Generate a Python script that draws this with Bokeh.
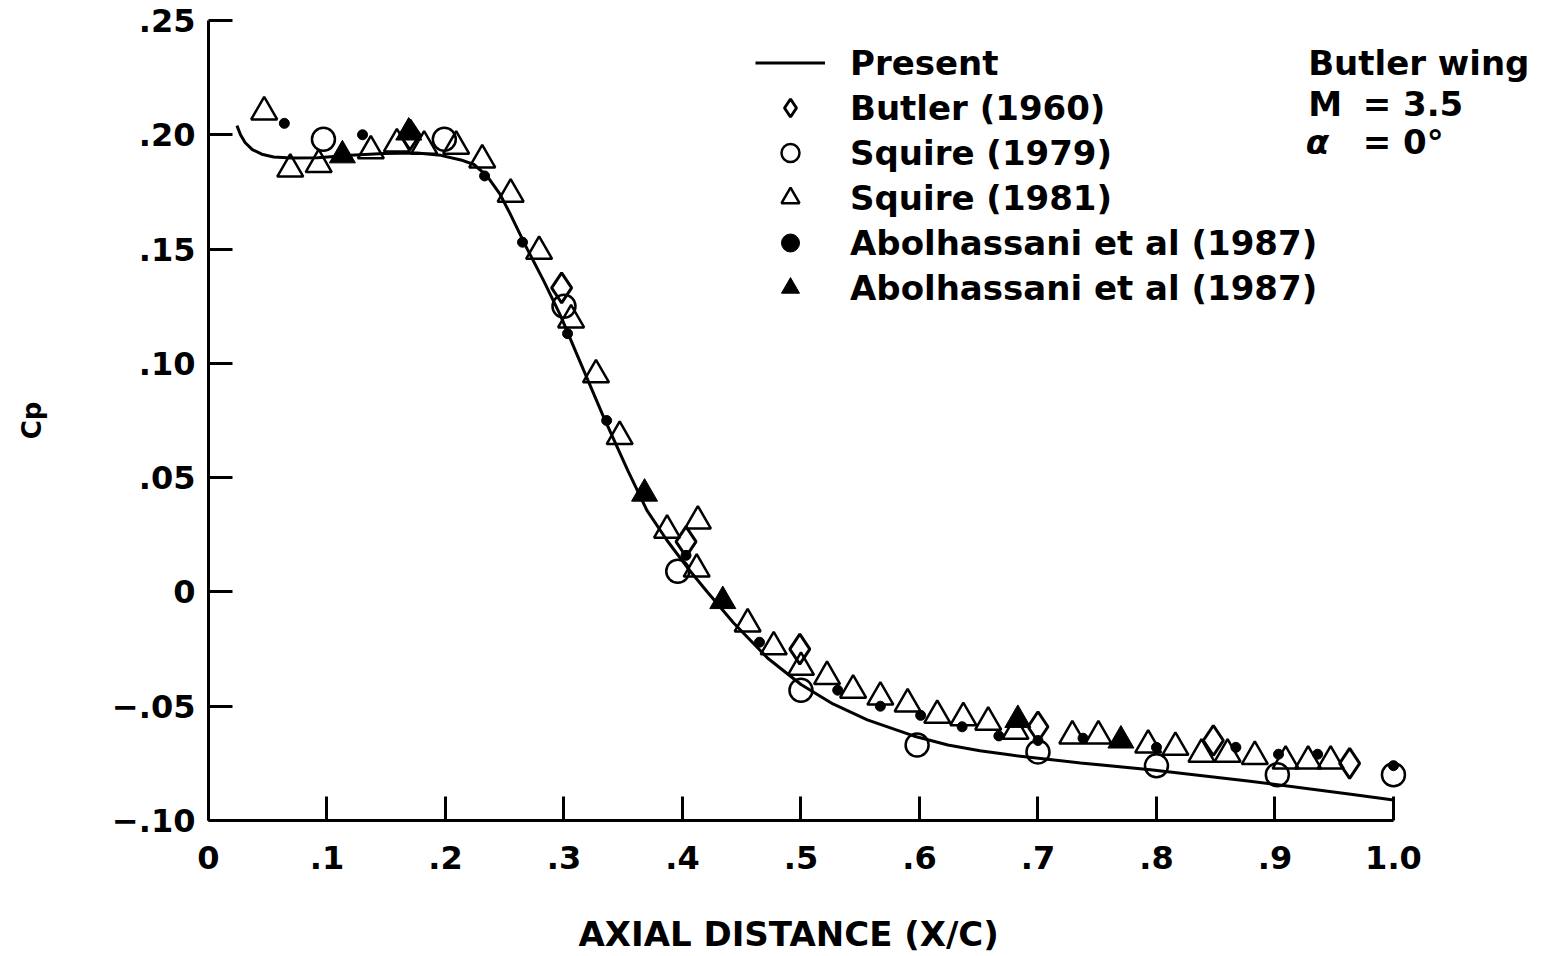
from bokeh.plotting import figure
from bokeh.models import Range1d, FixedTicker, Legend, LegendItem, Label, Title
from bokeh.embed import file_html
from bokeh.resources import INLINE

# ---- data ----
present_x = [0.024, 0.027, 0.031, 0.037, 0.045, 0.055, 0.070, 0.092, 0.120, 0.148,
             0.176, 0.196, 0.213, 0.224, 0.235, 0.246, 0.255, 0.269, 0.283, 0.297,
             0.310, 0.333, 0.354, 0.370, 0.387, 0.404, 0.421, 0.443, 0.472, 0.500,
             0.527, 0.556, 0.595, 0.624, 0.651, 0.679, 0.708, 0.736, 0.795, 0.879,
             0.964, 1.000]
present_y = [0.204, 0.200, 0.1965, 0.1935, 0.1915, 0.1903, 0.1898, 0.190, 0.191, 0.1918,
             0.192, 0.191, 0.189, 0.187, 0.182, 0.174, 0.165, 0.150, 0.136, 0.121,
             0.105, 0.077, 0.053, 0.0357, 0.0225, 0.0107, 0.000, -0.0135, -0.029, -0.0405,
             -0.049, -0.056, -0.063, -0.067, -0.0695, -0.0715, -0.0732, -0.0748, -0.0778, -0.0828,
             -0.0885, -0.091]

butler_x = [0.170, 0.298, 0.403, 0.499, 0.700, 0.848, 0.963]
butler_y = [0.200, 0.133, 0.022, -0.025, -0.059, -0.065, -0.075]

squire79_x = [0.097, 0.199, 0.300, 0.396, 0.500, 0.598, 0.700, 0.800, 0.902, 1.000]
squire79_y = [0.198, 0.198, 0.125, 0.009, -0.043, -0.067, -0.070, -0.076, -0.080, -0.080]

squire81_x = [0.047, 0.069, 0.093, 0.137, 0.159, 0.182, 0.209, 0.231, 0.255, 0.279,
              0.306, 0.327, 0.347, 0.387, 0.413, 0.412, 0.455, 0.477, 0.500, 0.522,
              0.544, 0.567, 0.590, 0.615, 0.637, 0.658, 0.681, 0.729, 0.751, 0.793,
              0.816, 0.838, 0.860, 0.883, 0.909, 0.928, 0.947]
squire81_y = [0.210, 0.185, 0.187, 0.193, 0.196, 0.195, 0.195, 0.189, 0.174, 0.149,
              0.119, 0.095, 0.068, 0.027, 0.031, 0.010, -0.014, -0.024, -0.033, -0.037,
              -0.043, -0.046, -0.049, -0.054, -0.055, -0.057, -0.061, -0.063, -0.063, -0.067,
              -0.068, -0.071, -0.071, -0.072, -0.074, -0.074, -0.074]

abol_dot_x = [0.064, 0.130, 0.233, 0.265, 0.303, 0.336, 0.403, 0.465, 0.531, 0.567,
              0.601, 0.636, 0.667, 0.700, 0.738, 0.800, 0.867, 0.903, 0.936, 1.000]
abol_dot_y = [0.205, 0.200, 0.182, 0.153, 0.113, 0.075, 0.016, -0.022, -0.043, -0.050,
              -0.054, -0.059, -0.063, -0.065, -0.064, -0.068, -0.068, -0.071, -0.071, -0.076]

abol_tri_x = [0.113, 0.169, 0.368, 0.434, 0.683, 0.770]
abol_tri_y = [0.191, 0.201, 0.043, -0.004, -0.056, -0.065]

x_ticks = [0.0, 0.1, 0.2, 0.3, 0.4, 0.5, 0.6, 0.7, 0.8, 0.9, 1.0]
x_tick_labels = ["0", ".1", ".2", ".3", ".4", ".5", ".6", ".7", ".8", ".9", "1.0"]
y_ticks = [-0.10, -0.05, 0.0, 0.05, 0.10, 0.15, 0.20, 0.25]
y_tick_labels = ["\u2212.10", "\u2212.05", "0", ".05", ".10", ".15", ".20", ".25"]

FONT = "DejaVu Sans"

p = figure(width=1540, height=954, output_backend="svg", toolbar_location=None,
           x_range=Range1d(0, 1.1224), y_range=Range1d(-0.10, 0.25),
           min_border_left=208, min_border_right=2, min_border_top=20, min_border_bottom=134)
p.outline_line_color = None
p.grid.visible = False
p.background_fill_color = "white"
p.border_fill_color = "white"

r_line = p.line(present_x, present_y, line_color="black", line_width=3)
r_butler = p.scatter(butler_x, butler_y, marker="diamond", size=30, line_color="black",
                     line_width=3, fill_color=None)
r_sq79 = p.scatter(squire79_x, squire79_y, marker="circle", size=23, line_color="black",
                   line_width=2.5, fill_color=None)
r_sq81 = p.scatter(squire81_x, squire81_y, marker="triangle", size=26, line_color="black",
                   line_width=2.5, fill_color=None)
r_dot = p.scatter(abol_dot_x, abol_dot_y, marker="circle", size=10, line_color="black",
                  fill_color="black")
r_tri = p.scatter(abol_tri_x, abol_tri_y, marker="triangle", size=26, line_color="black",
                  fill_color="black")

for ax in (p.xaxis[0], p.yaxis[0]):
    ax.axis_line_width = 3
    ax.axis_line_color = "black"
    ax.major_tick_line_width = 3
    ax.major_tick_line_color = "black"
    ax.major_tick_in = 24
    ax.major_tick_out = 0
    ax.minor_tick_line_color = None
    ax.major_label_text_font = FONT
    ax.major_label_text_font_style = "bold"
    ax.major_label_text_font_size = "32px"
    ax.major_label_text_color = "black"

p.xaxis.ticker = FixedTicker(ticks=x_ticks)
p.xaxis.major_label_overrides = dict(zip(x_ticks, x_tick_labels))
p.xaxis.bounds = (0, 1.0)
p.xaxis.major_label_standoff = 25

p.yaxis.ticker = FixedTicker(ticks=y_ticks)
p.yaxis.major_label_overrides = dict(zip(y_ticks, y_tick_labels))
p.yaxis.bounds = (-0.10, 0.25)
p.yaxis.major_label_standoff = 13
p.yaxis.axis_label = "Cp"
p.yaxis.axis_label_text_font = FONT
p.yaxis.axis_label_text_font_style = "bold"
p.yaxis.axis_label_text_font_size = "26px"
p.yaxis.axis_label_text_color = "black"
p.yaxis.axis_label_standoff = 62

# x-axis title, placed below the axis and aligned like the reference
p.add_layout(Title(text="\nAXIAL DISTANCE (X/C)", align="left", offset=370, standoff=0,
                   vertical_align="bottom",
                   text_font=FONT, text_font_style="bold", text_font_size="34px",
                   text_color="black"), "below")

legend = Legend(items=[
    LegendItem(label="Present", renderers=[r_line]),
    LegendItem(label="Butler (1960)", renderers=[r_butler]),
    LegendItem(label="Squire (1979)", renderers=[r_sq79]),
    LegendItem(label="Squire (1981)", renderers=[r_sq81]),
    LegendItem(label="Abolhassani et al (1987)", renderers=[r_dot]),
    LegendItem(label="Abolhassani et al (1987)", renderers=[r_tri]),
], location=(547, 510), glyph_width=70, glyph_height=45, spacing=0, padding=0, margin=0,
    label_standoff=25, label_text_font=FONT, label_text_font_style="bold",
    label_text_font_size="34px", label_text_color="black",
    border_line_color=None, background_fill_alpha=0)
p.add_layout(legend)

def txt(x, y, s, style="bold", size="34px", align="left"):
    p.add_layout(Label(x=x, y=y, text=s, text_align=align, text_baseline="middle",
                       text_font=FONT, text_font_style=style, text_font_size=size,
                       text_color="black"))

txt(0.928, 0.2316, "Butler wing")
txt(0.928, 0.2133, "M")
txt(0.974, 0.2133, "= 3.5")
txt(0.926, 0.197, "\u03b1", style="bold italic")
txt(0.974, 0.197, "= 0\u00b0")

open("out.html", "w").write(file_html(p, INLINE))
